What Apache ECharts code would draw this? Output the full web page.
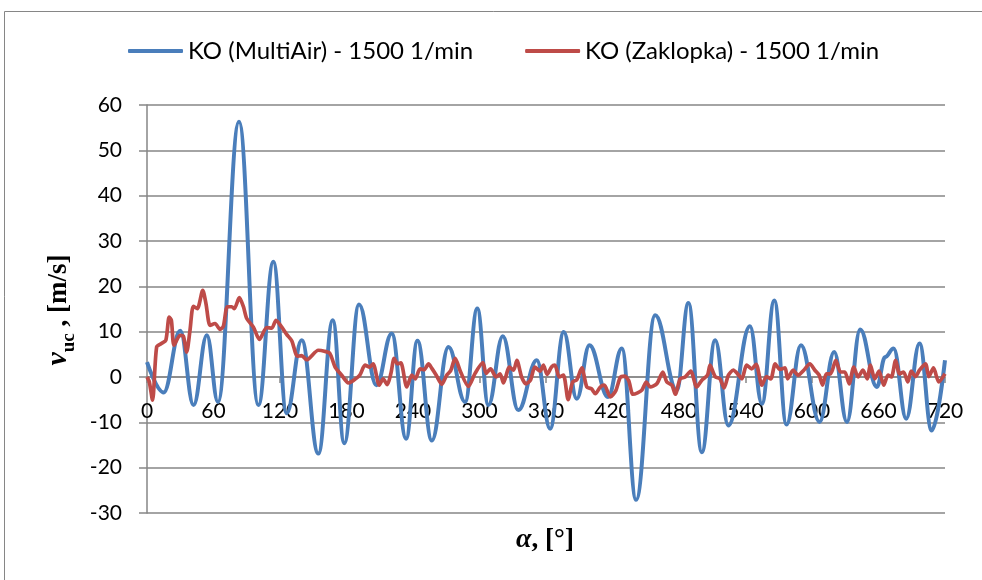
<!DOCTYPE html>
<html>
<head>
<meta charset="utf-8">
<script src="https://cdn.jsdelivr.net/npm/echarts@6/dist/echarts.min.js"></script>
<style>html,body{margin:0;padding:0;background:#fff;}#c{width:982px;height:580px;}</style>
</head>
<body>
<div id="c"></div>
<script>
// ---- data ----
const seriesNames = ['KO (MultiAir) - 1500 1/min', 'KO (Zaklopka) - 1500 1/min'];

const blueAngle = [0,15,30,42,54,64,83,100.5,114,126,139.6,154.6,167.6,178,191.3,207,220.8,233.8,244,257,272,287,298,308,321,335,351.7,363.7,376,387.8,399.2,416,428.4,441.3,458.5,478,488.5,500.6,512.6,524.6,544,554.8,566,577,590,606.8,620,631.5,643.5,658.5,666,673.6,685,697,708,720];
const blueValue = [3.3,-3.4,10.2,-6.2,9.2,-5.5,56.3,-6.2,25.4,-8,8.1,-16.9,12.5,-14.6,16,-1.8,9.6,-13.6,8,-14,6.6,-5.5,15.1,-6.2,9,-7.3,3.7,-11.4,9.9,-4.8,7,-4.4,6.3,-27.1,13.6,-2.9,16.3,-16.6,8.1,-10.7,11.2,-5.9,16.9,-10.5,7,-9.9,5.5,-9.9,10.5,-2.2,4.4,6.3,-9.2,7.4,-11.8,3.7];

const redAngle = [0,2,5,8.7,13,17,20,22,24.4,29.8,32.8,35.8,38.8,41.8,45.4,50.3,53.2,56.9,61.4,65.9,68.9,72.5,76.5,78.8,83.3,87,90,96,101.4,108,112.6,116.4,121.6,126,130.6,135.7,139.6,144,154.6,160,165,169.7,175.7,181.7,186,192,196.7,201,204,209.6,213,216.8,220,223,226,229,234.4,239,242,246.4,250,254,257,261,266,270.4,274,278,283,290,296,303,306,310,315,318.6,321.6,327,330.7,333.7,338,342,346,350,354.6,357.6,361,365,368,372,375.7,380,384,387.8,392.3,396.8,401,404.5,409,412.6,418,423,427,431,434.6,438.4,442.6,446.5,450.5,454,460,465.4,469,473.6,476.7,481,485.6,490.6,496,500.6,505.7,508,512.6,517,520.7,524.6,529,532.8,536.7,541,545.6,549.6,554.8,559,562.8,566.8,571,575.7,578,583,587.6,592.6,598,602.6,606.5,609.5,613,616.7,621.5,625.7,629.6,633.5,637.7,641.6,646,649.7,652.7,656.6,660.5,664.7,668.6,671.6,675.5,679,682.6,686.5,689.5,693.4,697,702.4,705.4,709.6,714.4,720];
const redValue = [0,-1,-5.1,6.6,7.4,8.1,13.2,12.5,7,9.2,9,5.5,10.3,15.6,15.1,19.1,16.2,11.4,11.8,10.5,11.2,15.5,15.5,15.1,17.5,15.5,12.9,11,8.3,10.9,10.8,12.5,11,9.4,8,4.6,4.7,3.8,5.9,5.7,5.2,2.2,0.4,-1.3,-0.8,0.4,2.6,2.2,2.9,-1.8,-0.4,-1.7,0.7,4.1,2.9,3.1,-2.2,0.4,-0.4,1.8,1.6,2.9,1.9,0.4,-1.6,0.4,1.4,4.1,1.1,-2.1,0.8,3.2,0.8,1.8,0,0.7,-1.3,2.2,1.5,3.7,0,-1.5,-0.7,2.2,1.3,2.6,0.6,2.2,2.6,0,0.4,-5,-1.1,-0.6,2,-2.2,-2.6,-3.7,-2.2,-1.8,-4.4,-3,-0.1,0.2,-0.8,-3.8,-3.5,-2.9,-1.1,-2.2,-1.5,1.1,-1.1,-1.8,-3.8,-0.4,0,1.3,-2.2,-0.7,0.4,2.6,0.1,-0.4,-2.4,0.4,1.5,0.7,-0.4,2.6,1.8,2.8,-1.8,0.1,-0.4,2.9,1.7,2,-0.4,1.5,0.4,1.5,2.9,1.5,0.4,-1.8,0.7,0.7,3.7,1.1,1.1,-1.5,2.2,0,1.5,-0.4,2.6,-0.4,1.3,-1.8,0.4,0,3.7,0.7,1.1,-1.1,1.3,0.1,1.5,2.9,0.1,2,-1.1,0.7];

const xMin = 0, xMax = 720, xStep = 60;
const yMin = -30, yMax = 60, yStep = 10;

// ---- chart ----
const zip = (a, b) => a.map((v, i) => [v, b[i]]);
const FONT = 'Lato';
const GRAY = '#868686';
const GRID = {left: 147, right: 37, top: 105, bottom: 67};
const plotH = 580 - GRID.top - GRID.bottom;
// move the x axis up so that it crosses the y axis at 0
const xAxisOffset = -plotH * (0 - yMin) / (yMax - yMin);

const chart = echarts.init(document.getElementById('c'), null, {renderer: 'canvas'});
chart.setOption({
  animation: false,
  backgroundColor: '#fff',
  grid: Object.assign({containLabel: false}, GRID),
  legend: {
    top: 39, left: 128, padding: 0,
    itemWidth: 55, itemHeight: 4, itemGap: 52,
    icon: 'roundRect',
    textStyle: {fontFamily: FONT, fontSize: 24, color: '#000'},
    data: seriesNames
  },
  xAxis: {
    type: 'value', min: xMin, max: xMax, interval: xStep,
    position: 'bottom', offset: xAxisOffset,
    axisLine: {onZero: false, lineStyle: {color: GRAY, width: 1.5}},
    axisTick: {show: true, length: 6, lineStyle: {color: GRAY, width: 1.5}},
    axisLabel: {margin: 24, fontFamily: FONT, fontSize: 21, color: '#000'},
    splitLine: {show: false}
  },
  yAxis: {
    type: 'value', min: yMin, max: yMax, interval: yStep,
    axisLine: {show: true, lineStyle: {color: GRAY, width: 1.5}},
    axisTick: {show: true, length: 8, lineStyle: {color: GRAY, width: 1.5}},
    axisLabel: {margin: 25, fontFamily: FONT, fontSize: 21, color: '#000'},
    splitLine: {show: true, lineStyle: {color: GRAY, width: 1.5}}
  },
  series: [
    {
      name: seriesNames[0], type: 'line', data: zip(blueAngle, blueValue),
      showSymbol: false, smooth: 0.4, smoothMonotone: 'x',
      lineStyle: {color: '#4a7ebb', width: 4}, itemStyle: {color: '#4a7ebb'}
    },
    {
      name: seriesNames[1], type: 'line', data: zip(redAngle, redValue),
      showSymbol: false, smooth: 0.25,
      lineStyle: {color: '#be4b48', width: 3.7}, itemStyle: {color: '#be4b48'}
    }
  ],
  graphic: [
    {
      type: 'rect', silent: true, z: -1,
      shape: {x: 4.5, y: 11.5, width: 1000, height: 1000},
      style: {fill: 'none', stroke: GRAY, lineWidth: 1}
    },
    {
      type: 'text', silent: true,
      x: 64, y: 310, rotation: Math.PI / 2,
      style: {
        text: '{v|v}{s|uc}{n| , [m/s]}',
        align: 'center', verticalAlign: 'middle',
        rich: {
          v: {fontFamily: 'Liberation Serif', fontStyle: 'italic', fontWeight: 'bold', fontSize: 30, verticalAlign: 'bottom', lineHeight: 30, padding: [0, 0, 6, 0], fill: '#000'},
          s: {fontFamily: 'Liberation Serif', fontWeight: 'bold', fontSize: 19, verticalAlign: 'bottom', lineHeight: 20, padding: [0, 0, 0, 0], fill: '#000'},
          n: {fontFamily: 'Liberation Serif', fontWeight: 'bold', fontSize: 27, verticalAlign: 'bottom', lineHeight: 27, padding: [0, 0, 6, 0], fill: '#000'}
        }
      }
    },
    {
      type: 'text', silent: true,
      x: 545, y: 540,
      style: {
        text: '{a|α}{b|, [°]}',
        align: 'center', verticalAlign: 'middle',
        rich: {
          a: {fontFamily: 'Liberation Serif', fontStyle: 'italic', fontWeight: 'bold', fontSize: 28, fill: '#000'},
          b: {fontFamily: 'Liberation Serif', fontWeight: 'bold', fontSize: 27, fill: '#000'}
        }
      }
    }
  ]
});
</script>
</body>
</html>
